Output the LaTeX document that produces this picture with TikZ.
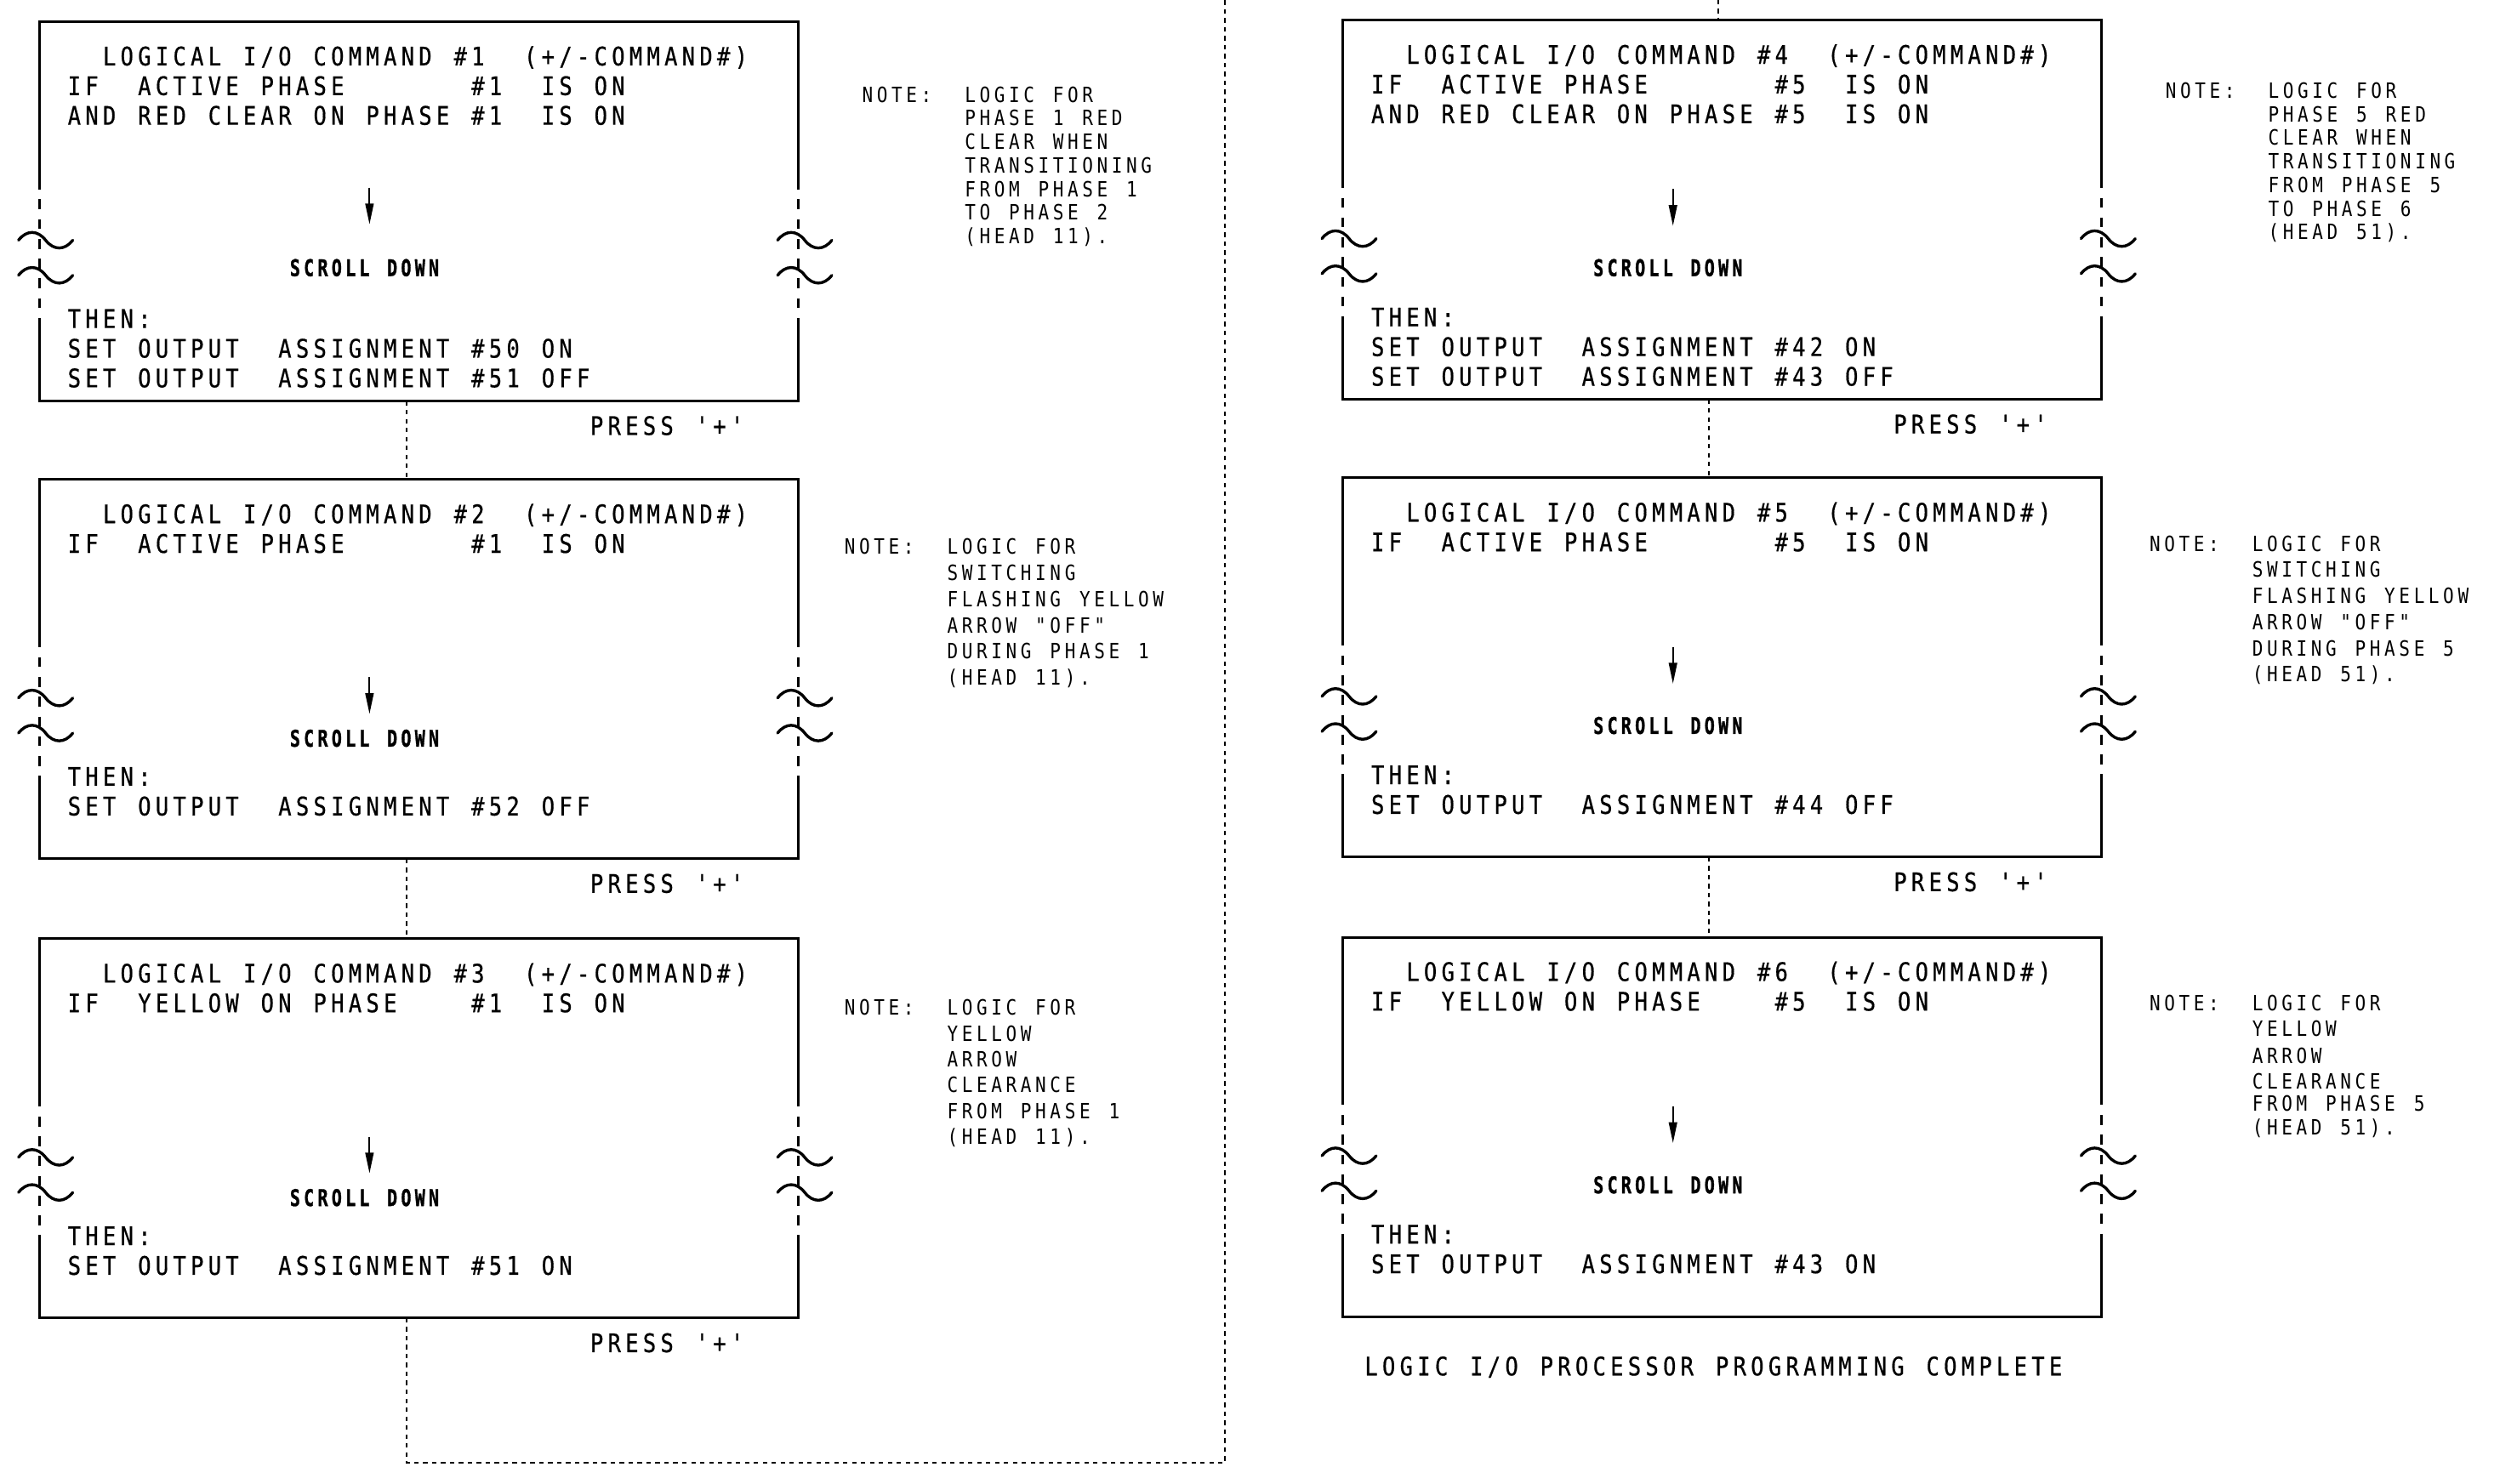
\documentclass[tikz,border=0pt]{standalone}
\usepackage{fontspec}
\usetikzlibrary{arrows.meta,calc}
\newfontfamily\cadfont{DejaVu Sans Mono}[FakeStretch=0.85, FakeBold=0.6]
\newfontfamily\notefont{DejaVu Sans Mono}[FakeStretch=0.85]
\newfontfamily\scrollfont{DejaVu Sans Mono Bold}[FakeStretch=0.74, FakeBold=1.2]
\ExplSyntaxOn
\dim_new:N \l_cad_pitch_dim
\NewDocumentCommand\mono{O{5.5pt}m}
 {
  \dim_set:Nn \l_cad_pitch_dim {#1}
  \tl_map_inline:nn {#2} { \hbox_to_wd:nn {\l_cad_pitch_dim} { ##1 \hss } }
 }
\ExplSyntaxOff
\tikzset{
 cadbox/.style={rectangle, inner sep=0pt, minimum width=237.5pt, minimum height=118.5pt},
 boxline/.style={line width=0.8pt},
 sidedash/.style={dash pattern=on 3.1pt off 3.1pt},
 conn/.style={line width=0.55pt, dash pattern=on 1.4pt off 1.4pt},
 tildeline/.style={line width=0.9pt, line cap=round},
 boxtxt/.style={anchor=base west, inner sep=0pt, font=\cadfont\fontsize{8pt}{9pt}\selectfont},
 notetxt/.style={anchor=base west, inner sep=0pt, font=\notefont\fontsize{6.6pt}{7pt}\selectfont},
 scrolltxt/.style={anchor=base, inner sep=0pt, font=\scrollfont\fontsize{7.2pt}{8pt}\selectfont},
 brk/.pic={\draw[tildeline] (-13,0) .. controls (-8,-6.5) and (-1,-6.5) .. (4,0) .. controls (9,6.5) and (16,6.5) .. (21,0);},
 downarrow/.style={line width=0.5pt, -{Triangle[length=6.5pt,width=2.6pt]}},
}
\newcommand\cadframe[1]{%
 \draw[boxline] ($(#1.north west)+(0,99)$) -- (#1.north west) -- (#1.north east) -- ($(#1.north east)+(0,99)$);
 \draw[boxline,sidedash] ($(#1.north west)+(0,99)$) -- ($(#1.north west)+(0,187)$);
 \draw[boxline,sidedash] ($(#1.north east)+(0,99)$) -- ($(#1.north east)+(0,187)$);
 \draw[boxline] ($(#1.north west)+(0,187)$) -- (#1.south west) -- (#1.south east) -- ($(#1.north east)+(0,187)$);
 \pic at ($(#1.north west)+(0,137)$) {brk};
 \pic at ($(#1.north west)+(0,159)$) {brk};
 \pic at ($(#1.north east)+(0,137)$) {brk};
 \pic at ($(#1.north east)+(0,159)$) {brk};
}
\newcommand\cadline[4]{\node[boxtxt] (#1) at ($(#2.north west)+(17.5,#3)$) {\mono{#4}};}
\newcommand\scroll[4]{%
 \coordinate (#4a) at ($(#1.north west)+(207,#2)$);
 \coordinate (#4b) at ($(#1.north west)+(207,#2+23)$);
 \draw[downarrow] (#4a) -- (#4b);
 \node[scrolltxt] (#4) at ($(#1.north west)+(205,#3)$) {\mono[4.35pt]{SCROLL~DOWN}};
}
\newcommand\press[2]{\node[boxtxt] (#2) at ($(#1.south west)+(345,21.3)$) {\mono{PRESS~'+'}};}
\newcommand\nl[4]{\node[notetxt] (#1) at (#2,#3) {\mono[4.6pt]{#4}};}
\begin{document}
\begin{tikzpicture}[x=0.5pt,y=-0.5pt]
\useasboundingbox (0,0) rectangle (1567,930);
% boxes
\node[cadbox] (b1) at (262.5,132.5) {};
\node[cadbox] (b2) at (262.5,419.5) {};
\node[cadbox] (b3) at (262.5,707.5) {};
\node[cadbox] (b4) at (1079.5,131.5) {};
\node[cadbox] (b5) at (1079.5,418.5) {};
\node[cadbox] (b6) at (1079.5,706.5) {};
\cadframe{b1}\cadframe{b2}\cadframe{b3}\cadframe{b4}\cadframe{b5}\cadframe{b6}
% box 1
\cadline{t1a}{b1}{27.4}{~~LOGICAL~I/O~COMMAND~\#1~~(+/-COMMAND\#)}
\cadline{t1b}{b1}{46}{IF~~ACTIVE~PHASE~~~~~~~\#1~~IS~ON}
\cadline{t1c}{b1}{64.6}{AND~RED~CLEAR~ON~PHASE~\#1~~IS~ON}
\cadline{t1d}{b1}{192}{THEN:}
\cadline{t1e}{b1}{210.6}{SET~OUTPUT~~ASSIGNMENT~\#50~ON}
\cadline{t1f}{b1}{229.2}{SET~OUTPUT~~ASSIGNMENT~\#51~OFF}
\scroll{b1}{104}{159.5}{s1}
\press{b1}{p1}
% box 2
\cadline{t2a}{b2}{27.4}{~~LOGICAL~I/O~COMMAND~\#2~~(+/-COMMAND\#)}
\cadline{t2b}{b2}{46}{IF~~ACTIVE~PHASE~~~~~~~\#1~~IS~ON}
\cadline{t2d}{b2}{192}{THEN:}
\cadline{t2e}{b2}{210.6}{SET~OUTPUT~~ASSIGNMENT~\#52~OFF}
\scroll{b2}{124}{167.5}{s2}
\press{b2}{p2}
% box 3
\cadline{t3a}{b3}{27.4}{~~LOGICAL~I/O~COMMAND~\#3~~(+/-COMMAND\#)}
\cadline{t3b}{b3}{46}{IF~~YELLOW~ON~PHASE~~~~\#1~~IS~ON}
\cadline{t3d}{b3}{192}{THEN:}
\cadline{t3e}{b3}{210.6}{SET~OUTPUT~~ASSIGNMENT~\#51~ON}
\scroll{b3}{124}{167.5}{s3}
\press{b3}{p3}
% box 4
\cadline{t4a}{b4}{27.4}{~~LOGICAL~I/O~COMMAND~\#4~~(+/-COMMAND\#)}
\cadline{t4b}{b4}{46}{IF~~ACTIVE~PHASE~~~~~~~\#5~~IS~ON}
\cadline{t4c}{b4}{64.6}{AND~RED~CLEAR~ON~PHASE~\#5~~IS~ON}
\cadline{t4d}{b4}{192}{THEN:}
\cadline{t4e}{b4}{210.6}{SET~OUTPUT~~ASSIGNMENT~\#42~ON}
\cadline{t4f}{b4}{229.2}{SET~OUTPUT~~ASSIGNMENT~\#43~OFF}
\scroll{b4}{106}{160.5}{s4}
\press{b4}{p4}
% box 5
\cadline{t5a}{b5}{27.4}{~~LOGICAL~I/O~COMMAND~\#5~~(+/-COMMAND\#)}
\cadline{t5b}{b5}{46}{IF~~ACTIVE~PHASE~~~~~~~\#5~~IS~ON}
\cadline{t5d}{b5}{192}{THEN:}
\cadline{t5e}{b5}{210.6}{SET~OUTPUT~~ASSIGNMENT~\#44~OFF}
\scroll{b5}{106}{160.5}{s5}
\press{b5}{p5}
% box 6
\cadline{t6a}{b6}{27.4}{~~LOGICAL~I/O~COMMAND~\#6~~(+/-COMMAND\#)}
\cadline{t6b}{b6}{46}{IF~~YELLOW~ON~PHASE~~~~\#5~~IS~ON}
\cadline{t6d}{b6}{192}{THEN:}
\cadline{t6e}{b6}{210.6}{SET~OUTPUT~~ASSIGNMENT~\#43~ON}
\scroll{b6}{106}{160.5}{s6}
\node[boxtxt] (done) at (855,862.3) {\mono{LOGIC~I/O~PROCESSOR~PROGRAMMING~COMPLETE}};
% notes
\nl{n1a}{540}{64}{NOTE:~~LOGIC~FOR}
\nl{n1b}{604.4}{78.8}{PHASE~1~RED}
\nl{n1c}{604.4}{93.6}{CLEAR~WHEN}
\nl{n1d}{604.4}{108.4}{TRANSITIONING}
\nl{n1e}{604.4}{123.2}{FROM~PHASE~1}
\nl{n1f}{604.4}{138}{TO~PHASE~2}
\nl{n1g}{604.4}{152.8}{(HEAD~11).}
\nl{n2a}{529}{347.5}{NOTE:~~LOGIC~FOR}
\nl{n2b}{593.4}{363.9}{SWITCHING}
\nl{n2c}{593.4}{380.3}{FLASHING~YELLOW}
\nl{n2d}{593.4}{396.7}{ARROW~"OFF"}
\nl{n2e}{593.4}{413.1}{DURING~PHASE~1}
\nl{n2f}{593.4}{429.5}{(HEAD~11).}
\nl{n3a}{529}{636.5}{NOTE:~~LOGIC~FOR}
\nl{n3b}{593.4}{652.7}{YELLOW}
\nl{n3c}{593.4}{668.9}{ARROW}
\nl{n3d}{593.4}{685.1}{CLEARANCE}
\nl{n3e}{593.4}{701.3}{FROM~PHASE~1}
\nl{n3f}{593.4}{717.5}{(HEAD~11).}
\nl{n4a}{1357}{61.5}{NOTE:~~LOGIC~FOR}
\nl{n4b}{1421.4}{76.3}{PHASE~5~RED}
\nl{n4c}{1421.4}{91.1}{CLEAR~WHEN}
\nl{n4d}{1421.4}{105.9}{TRANSITIONING}
\nl{n4e}{1421.4}{120.7}{FROM~PHASE~5}
\nl{n4f}{1421.4}{135.5}{TO~PHASE~6}
\nl{n4g}{1421.4}{150.3}{(HEAD~51).}
\nl{n5a}{1347}{345.5}{NOTE:~~LOGIC~FOR}
\nl{n5b}{1411.4}{361.9}{SWITCHING}
\nl{n5c}{1411.4}{378.3}{FLASHING~YELLOW}
\nl{n5d}{1411.4}{394.7}{ARROW~"OFF"}
\nl{n5e}{1411.4}{411.1}{DURING~PHASE~5}
\nl{n5f}{1411.4}{427.5}{(HEAD~51).}
\nl{n6a}{1347}{633.5}{NOTE:~~LOGIC~FOR}
\nl{n6b}{1411.4}{649.5}{YELLOW}
\nl{n6c}{1411.4}{666.5}{ARROW}
\nl{n6d}{1411.4}{682.5}{CLEARANCE}
\nl{n6e}{1411.4}{696.5}{FROM~PHASE~5}
\nl{n6f}{1411.4}{711.5}{(HEAD~51).}
% connectors
\coordinate (cL) at (255,0);
\coordinate (cR) at (1071,0);
\coordinate (k1) at (255,917);
\coordinate (k2) at (768,917);
\coordinate (k3) at (768,0);
\coordinate (k4) at (1077,0);
\draw[conn] (b1.south -| cL) -- (b2.north -| cL);
\draw[conn] (b2.south -| cL) -- (b3.north -| cL);
\draw[conn] (b3.south -| cL) -- (k1) -- (k2) -- (k3);
\draw[conn] (k4) -- (b4.north -| k4);
\draw[conn] (b4.south -| cR) -- (b5.north -| cR);
\draw[conn] (b5.south -| cR) -- (b6.north -| cR);
\end{tikzpicture}
\end{document}
